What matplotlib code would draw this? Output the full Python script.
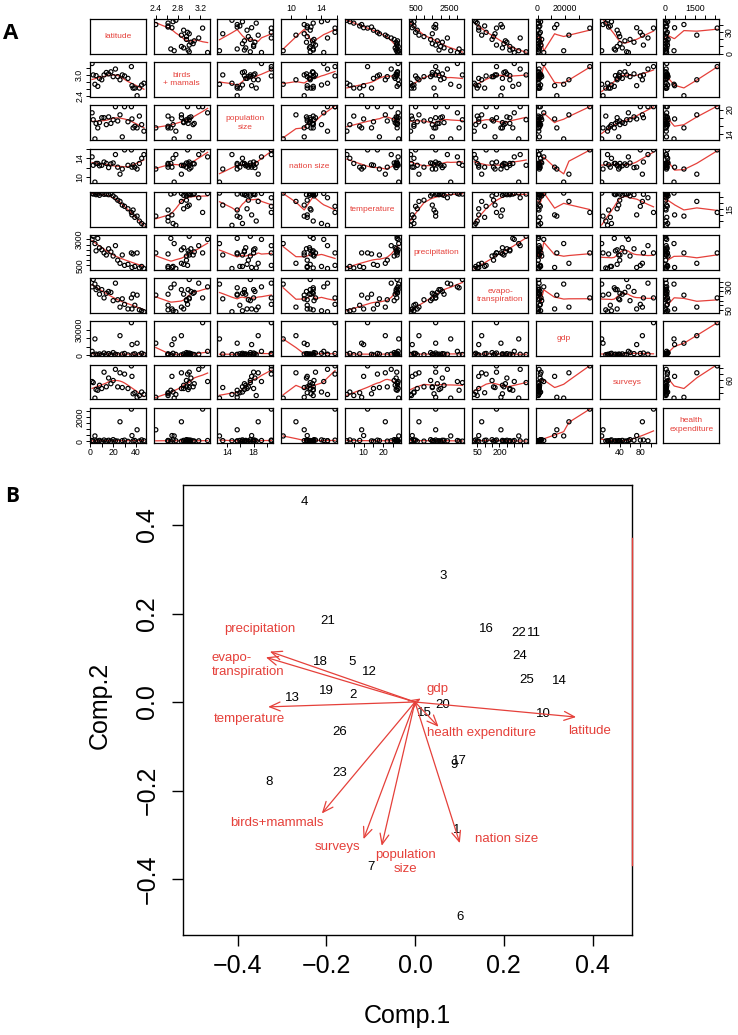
import numpy as np
import matplotlib
matplotlib.use('Agg')
import matplotlib.pyplot as plt

plt.rcParams['font.family'] = ['Liberation Sans', 'DejaVu Sans']

# ---------------- data (panel A: 26 observations) ----------------
latitude = [1.5, 2.5, 4, 5, 6.5, 8, 10, 12, 14, 16, 18, 20, 22, 24, 26, 28, 30, 33,
            36, 36.5, 37.5, 39, 41, 43, 45, 47]
birds = [3.33, 3.00, 2.73, 2.98, 2.67, 2.90, 2.86, 3.00, 3.07, 3.03, 3.09, 2.95, 3.17,
         2.95, 2.86, 3.00, 2.97, 2.90, 3.24, 2.69, 2.62, 2.62, 2.40, 2.62, 2.71, 2.76]
popsize = [19.2, 17.5, 12.8, 16.6, 15.5, 16.8, 18.0, 18.0, 16.3, 18.2, 16.6, 17.5, 20.7,
           17.2, 18.7, 13.3, 20.7, 17.0, 20.7, 17.7, 15.5, 15.9, 15.5, 18.4, 16.3, 14.7]
nation = [14.3, 12.5, 8.9, 12.9, 12.9, 12.4, 12.5, 13.2, 12.9, 12.0, 12.8, 13.0, 14.8,
          12.1, 10.6, 11.7, 15.8, 12.5, 15.8, 12.1, 12.6, 12.1, 11.7, 12.9, 14.0, 14.8]
temperature = [27.5, 27.0, 27.8, 26.5, 27.0, 26.0, 27.5, 26.8, 27.0, 26.5, 27.2, 25.5, 24.0,
               22.0, 21.0, 18.0, 17.0, 15.0, 12.0, 10.0, 14.0, 8.0, 9.0, 5.0, 3.0, 1.5]
precip = [3000, 3300, 2600, 1900, 3100, 2200, 2000, 1700, 1500, 2100, 1800, 1400, 2400,
          1000, 700, 1500, 500, 600, 1700, 300, 1600, 400, 1700, 250, 400, 200]
evapo = [300, 380, 330, 270, 290, 220, 270, 180, 230, 250, 240, 150, 340,
         160, 80, 170, 110, 60, 180, 60, 220, 100, 210, 50, 40, 30]
gdp = [4500, 800, 19000, 1200, 600, 1500, 400, 2500, 900, 1800, 700, 3000, 1100,
       500, 22800, 1300, 2000, 300, 38000, 12400, 1000, 1600, 14000, 600, 2200, 900]
surveys = [56.8, 53.5, 5, 31.7, 29.5, 45, 35, 86, 40.4, 67.7, 50, 60, 94.8,
           40, 84, 38, 80, 35, 105.6, 72.9, 18.5, 21.8, 7.6, 13, 24, 16.4]
health = [80, 30, 450, 60, 25, 90, 20, 120, 45, 100, 35, 150, 55,
          30, 1600, 70, 110, 15, 2630, 480, 50, 85, 950, 40, 130, 60]

var_names = ['latitude', 'birds\n+ mamals', 'population\nsize', 'nation size', 'temperature',
             'precipitation', 'evapo-\ntranspiration', 'gdp', 'surveys', 'health\nexpenditure']
var_data = [latitude, birds, popsize, nation, temperature, precip, evapo, gdp, surveys, health]

# tick marks and labelled ticks per variable
tick_marks = [[0, 10, 20, 30, 40], [2.4, 2.6, 2.8, 3.0, 3.2], [14, 16, 18, 20], [10, 12, 14, 16],
              [0, 5, 10, 15, 20, 25], [500, 1000, 1500, 2000, 2500, 3000],
              [50, 100, 150, 200, 250, 300, 350], [0, 10000, 20000, 30000],
              [0, 20, 40, 60, 80, 100], [0, 500, 1000, 1500, 2000, 2500]]
x_labelled = [[0, 20, 40], [2.4, 2.8, 3.2], [14, 18], [10, 14], [0, 10, 20], [500, 2500],
              [50, 200], [0, 20000], [0, 40, 80], [0, 1500]]
y_labelled = [[0, 30], [2.4, 3.0], [14, 20], [10, 14], [0, 15], [500, 3000],
              [50, 300], [0, 30000], [0, 60], [0, 2000]]

# ---------------- data (panel B: biplot) ----------------
obs_labels = list(range(1, 27))
comp1 = [0.094, -0.139, 0.064, -0.250, -0.141, 0.101, -0.099, -0.328, 0.088, 0.289, 0.268,
         -0.103, -0.276, 0.325, 0.021, 0.162, 0.101, -0.214, -0.199, 0.062, -0.197, 0.233,
         -0.169, 0.237, 0.252, -0.169]
comp2 = [-0.289, 0.016, 0.285, 0.452, 0.090, -0.487, -0.372, -0.180, -0.142, -0.027, 0.155,
         0.067, 0.008, 0.047, -0.024, 0.166, -0.133, 0.090, 0.025, -0.007, 0.184, 0.155,
         -0.160, 0.105, 0.050, -0.067]
load_names = ['latitude', 'birds+mammals', 'population\nsize', 'nation size', 'temperature',
              'precipitation', 'evapo-\ntranspiration', 'gdp', 'surveys', 'health expenditure']
load1 = [0.363, -0.210, -0.075, 0.101, -0.331, -0.327, -0.336, 0.013, -0.116, 0.053]
load2 = [-0.034, -0.252, -0.325, -0.319, -0.011, 0.114, 0.101, 0.008, -0.310, -0.056]

# layout of loading labels (text anchor in data units, horizontal alignment)
load_label_pos = {
    'latitude': (0.393, -0.066, 'center'),
    'birds+mammals': (-0.312, -0.274, 'center'),
    'population\nsize': (-0.022, -0.362, 'center'),
    'nation size': (0.207, -0.310, 'center'),
    'temperature': (-0.373, -0.039, 'center'),
    'precipitation': (-0.349, 0.166, 'center'),
    'evapo-\ntranspiration': (-0.459, 0.084, 'left'),
    'gdp': (0.050, 0.029, 'center'),
    'surveys': (-0.174, -0.328, 'center'),
    'health expenditure': (0.150, -0.071, 'center'),
}

RED = '#e5403a'
W, H = 738, 1035


def box(l, t, w, h):
    return [l / W, 1 - (t + h) / H, w / W, h / H]


def lowess(x, y, f=2 / 3, it=3):
    x = np.asarray(x, float)
    y = np.asarray(y, float)
    o = np.argsort(x, kind='mergesort')
    x, y = x[o], y[o]
    n = len(x)
    ns = max(min(int(f * n + 1e-5), n), 2)
    h = np.array([np.sort(np.abs(x - x[i]))[ns - 1] for i in range(n)])
    h = np.maximum(h, 1e-12)
    w = np.clip(np.abs((x[:, None] - x[None, :]) / h[None, :]), 0, 1)
    w = (1 - w ** 3) ** 3
    delta = np.ones(n)
    yest = np.zeros(n)
    for _ in range(it + 1):
        for i in range(n):
            wt = delta * w[:, i]
            sw = wt.sum()
            if sw <= 0:
                yest[i] = y[i]
                continue
            xm = (wt * x).sum() / sw
            ym = (wt * y).sum() / sw
            sxx = (wt * (x - xm) ** 2).sum()
            if sxx > 1e-12 * (np.ptp(x) ** 2 + 1e-30):
                b = (wt * (x - xm) * (y - ym)).sum() / sxx
            else:
                b = 0.0
            yest[i] = ym + b * (x[i] - xm)
        res = y - yest
        s = np.median(np.abs(res))
        if s <= 0:
            break
        u = np.clip(res / (6 * s), -1, 1)
        delta = (1 - u ** 2) ** 2
    return x, yest


def fmt(v):
    if isinstance(v, float) and not float(v).is_integer():
        return f'{v:.1f}'
    if isinstance(v, float):
        return f'{v:.1f}' if v < 10 else f'{int(v)}'
    return str(v)


fig = plt.figure(figsize=(W / 100, H / 100), dpi=100)

lims = []
for d in var_data:
    lo, hi = min(d), max(d)
    p = 0.04 * (hi - lo)
    lims.append((lo - p, hi + p))

nv = len(var_data)
for r in range(nv):
    for c in range(nv):
        ax = fig.add_axes(box(90 + c * 63.7, 19 + r * 43.2, 56, 34.8))
        ax.set_xlim(lims[c])
        ax.set_ylim(lims[r])
        ax.set_xticks([])
        ax.set_yticks([])
        for s in ax.spines.values():
            s.set_linewidth(0.9)
        if r == c:
            ax.text(0.5, 0.5, var_names[r], ha='center', va='center', color=RED,
                    fontsize=6, transform=ax.transAxes, linespacing=1.35)
        else:
            ax.scatter(var_data[c], var_data[r], s=9, facecolors='none',
                       edgecolors='black', linewidths=0.85, zorder=3)
            lx, ly = lowess(var_data[c], var_data[r])
            ax.plot(lx, ly, color=RED, lw=0.9, zorder=2)
        tk = dict(length=3, width=0.7, pad=1.2, labelsize=6.3, direction='out')
        if r == nv - 1 and c % 2 == 0:
            t = [v for v in tick_marks[c] if lims[c][0] <= v <= lims[c][1]]
            ax.set_xticks(t)
            ax.set_xticklabels([fmt(v) if v in x_labelled[c] else '' for v in t])
            ax.tick_params(axis='x', bottom=True, labelbottom=True, **tk)
        if r == 0 and c % 2 == 1:
            t = [v for v in tick_marks[c] if lims[c][0] <= v <= lims[c][1]]
            ax.set_xticks(t)
            ax.set_xticklabels([fmt(v) if v in x_labelled[c] else '' for v in t])
            ax.tick_params(axis='x', bottom=False, labelbottom=False, top=True,
                           labeltop=True, **tk)
        if c == 0 and r % 2 == 1:
            t = [v for v in tick_marks[r] if lims[r][0] <= v <= lims[r][1]]
            ax.set_yticks(t)
            ax.set_yticklabels([fmt(v) if v in y_labelled[r] else '' for v in t],
                               rotation=90, va='center')
            ax.tick_params(axis='y', left=True, labelleft=True, **tk)
        if c == nv - 1 and r % 2 == 0:
            t = [v for v in tick_marks[r] if lims[r][0] <= v <= lims[r][1]]
            ax.set_yticks(t)
            ax.set_yticklabels([fmt(v) if v in y_labelled[r] else '' for v in t],
                               rotation=90, va='center')
            ax.tick_params(axis='y', left=False, labelleft=False, right=True,
                           labelright=True, **tk)

# ---------------- panel B ----------------
axb = fig.add_axes(box(183, 485, 449, 450))
x0 = 415.0
y0 = 702.0
sx, sy = 443.75, 442.5
axb.set_xlim((183 - x0) / sx, (632 - x0) / sx)
axb.set_ylim((y0 - 935) / sy, (y0 - 485) / sy)
for s in axb.spines.values():
    s.set_linewidth(1.0)

for lab, x, y in zip(obs_labels, comp1, comp2):
    axb.text(x, y, str(lab), ha='center', va='center', fontsize=9.5, color='black')

for name, lx, ly in zip(load_names, load1, load2):
    axb.annotate('', xy=(lx, ly), xytext=(0, 0),
                 arrowprops=dict(arrowstyle='->,head_length=0.75,head_width=0.32',
                                 color=RED, lw=0.9, shrinkA=0, shrinkB=0,
                                 mutation_scale=10))
    tx, ty, ha = load_label_pos[name]
    axb.text(tx, ty, name, ha=ha, va='center', color=RED, fontsize=9.5,
             multialignment=ha if ha != 'center' else 'center', linespacing=1.2)

xmax = axb.get_xlim()[1]
axb.plot([xmax, xmax], [(y0 - 538) / sy, (y0 - 865) / sy], color=RED, lw=1.0,
         clip_on=False, zorder=5)

ticks = [-0.4, -0.2, 0.0, 0.2, 0.4]
tlabels = ['\u22120.4', '\u22120.2', '0.0', '0.2', '0.4']
axb.set_xticks(ticks)
axb.set_xticklabels(tlabels)
axb.set_yticks(ticks)
axb.set_yticklabels(tlabels, rotation=90, va='center')
axb.tick_params(axis='both', length=8, width=1.0, labelsize=18, direction='out')
axb.tick_params(axis='x', pad=6)
axb.tick_params(axis='y', pad=9)

fig.text(407 / W, 1 - 1016 / H, 'Comp.1', ha='center', va='center', fontsize=18)
fig.text(100 / W, 1 - 705 / H, 'Comp.2', ha='center', va='center', fontsize=18,
         rotation=90)

fig.text(11 / W, 1 - 33.5 / H, 'A', ha='center', va='center', fontsize=16,
         fontweight='bold', family=['Open Sans', 'DejaVu Sans'])
fig.text(12 / W, 1 - 496.5 / H, 'B', ha='center', va='center', fontsize=15,
         fontweight='bold', family=['Open Sans', 'DejaVu Sans'])

fig.savefig('out.png', dpi=100)
